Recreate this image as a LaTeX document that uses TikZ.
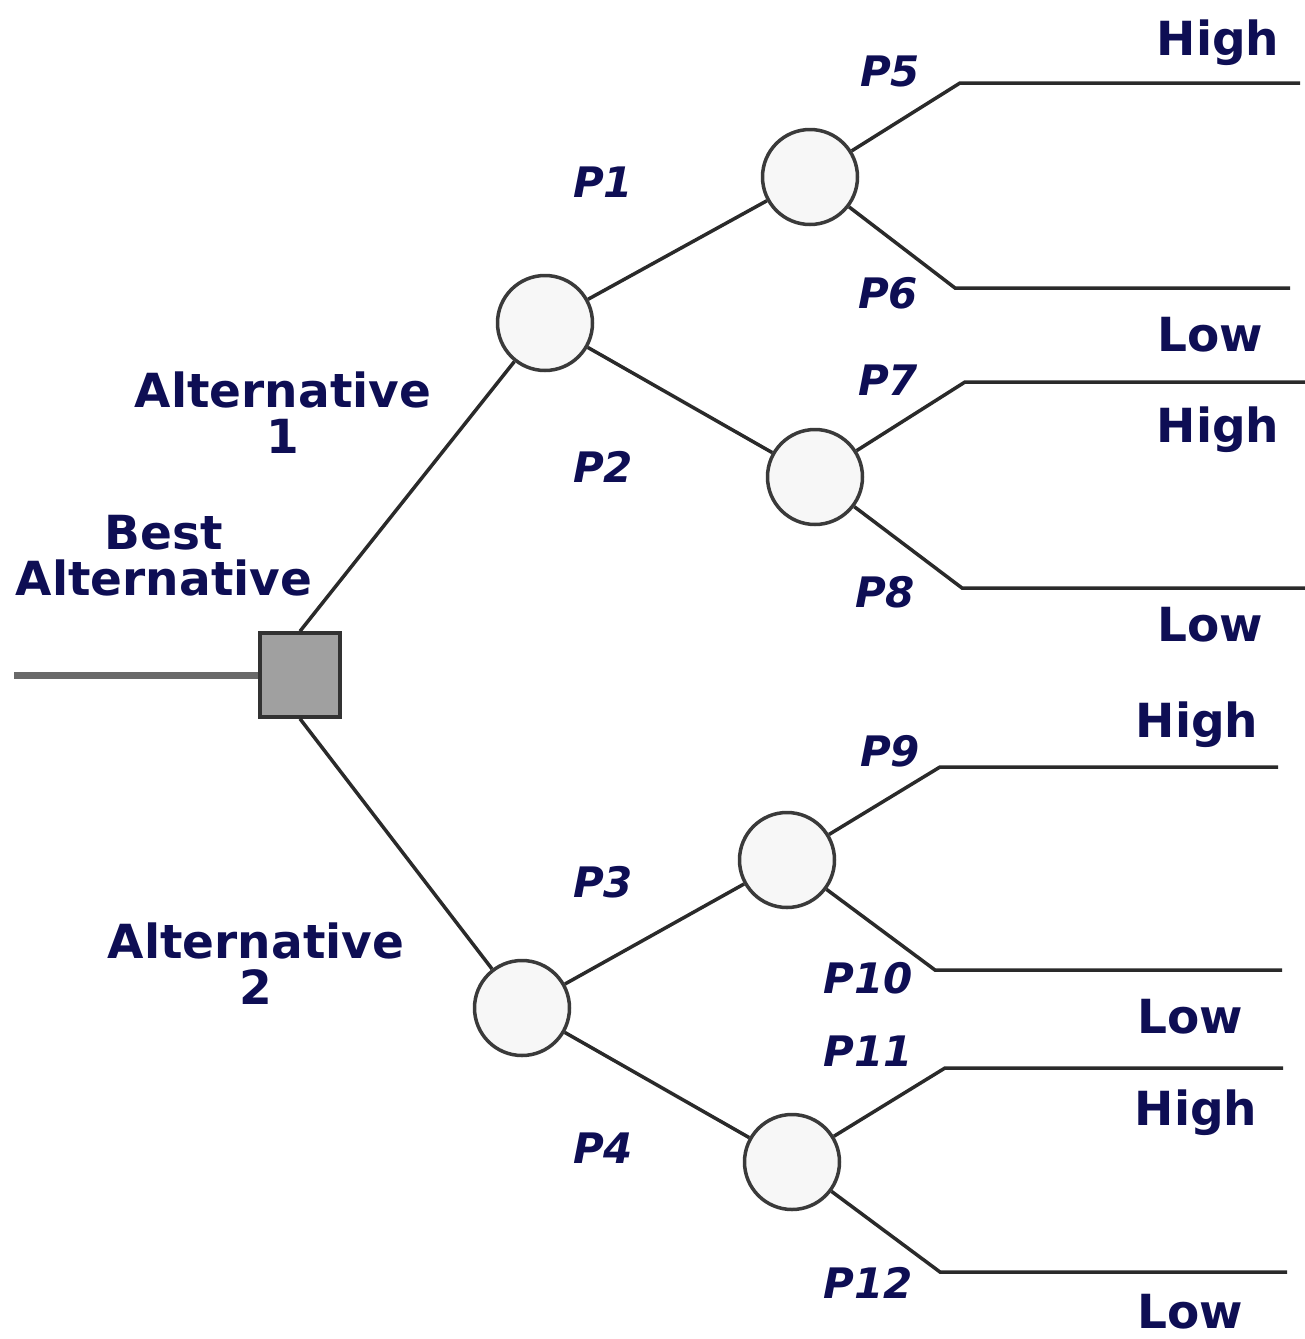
\documentclass[tikz,border=0pt]{standalone}
\usepackage{fontspec}
\setmainfont{DejaVu Sans}
\definecolor{ink}{RGB}{14,14,84}
\definecolor{linec}{RGB}{42,42,42}
\definecolor{stubc}{RGB}{105,105,105}
\definecolor{circd}{RGB}{58,58,58}
\definecolor{circf}{RGB}{247,247,247}
\definecolor{sqd}{RGB}{50,50,50}
\definecolor{sqf}{RGB}{160,160,160}
\begin{document}
\begin{tikzpicture}[x=1pt,y=-1pt,
  branch/.style={draw=linec, line width=3.5pt},
  stub/.style={draw=stubc, line width=7pt},
  chance/.style={circle, draw=circd, fill=circf, line width=3.5pt, minimum size=95pt, inner sep=0pt},
  decision/.style={rectangle, draw=sqd, fill=sqf, line width=3.5pt, minimum width=80pt, minimum height=84pt, inner sep=0pt},
  outcome/.style={text=ink, anchor=base, inner sep=0pt, font=\fontsize{47}{47}\selectfont\bfseries},
  prob/.style={text=ink, anchor=base, inner sep=0pt, font=\fontsize{42}{42}\selectfont\bfseries\itshape},
  alt/.style={text=ink, inner sep=0pt, align=center, font=\fontsize{47}{46}\selectfont\bfseries},
]
\useasboundingbox (0,0) rectangle (1305,1339);

% decision square and chance nodes
\node[decision] (sq) at (300,675) {};
\node[chance] (a1) at (545,323) {};
\node[chance] (a2) at (522,1008) {};
\node[chance] (b1) at (810,177) {};
\node[chance] (b2) at (815,477) {};
\node[chance] (b3) at (787,860) {};
\node[chance] (b4) at (792,1162) {};

% start of the tree
\coordinate (s0) at (14,675);
\draw[stub] (s0) -- (sq.west);

% alternatives
\draw[branch] (sq.north) -- (a1);
\draw[branch] (sq.south) -- (a2);

% first-level chance branches
\draw[branch] (a1) -- (b1);
\draw[branch] (a1) -- (b2);
\draw[branch] (a2) -- (b3);
\draw[branch] (a2) -- (b4);

% outcome branches: knee and end points
\coordinate (k5) at (960,83);   \coordinate (e5) at (1300,83);
\coordinate (k6) at (955,288);  \coordinate (e6) at (1290,288);
\coordinate (k7) at (965,382);  \coordinate (e7) at (1305,382);
\coordinate (k8) at (962,588);  \coordinate (e8) at (1305,588);
\coordinate (k9) at (940,767);  \coordinate (e9) at (1278,767);
\coordinate (k10) at (935,970); \coordinate (e10) at (1282,970);
\coordinate (k11) at (945,1068);\coordinate (e11) at (1283,1068);
\coordinate (k12) at (940,1272);\coordinate (e12) at (1287,1272);

\draw[branch] (b1) -- (k5) -- (e5);
\draw[branch] (b1) -- (k6) -- (e6);
\draw[branch] (b2) -- (k7) -- (e7);
\draw[branch] (b2) -- (k8) -- (e8);
\draw[branch] (b3) -- (k9) -- (e9);
\draw[branch] (b3) -- (k10) -- (e10);
\draw[branch] (b4) -- (k11) -- (e11);
\draw[branch] (b4) -- (k12) -- (e12);

% labels of the decision and alternatives
\node[alt] (lbest) at (164,556) {Best\\Alternative};
\node[alt] (lalt1) at (283,413) {Alternative\\1};
\node[alt] (lalt2) at (256,964) {Alternative\\2};

% probabilities
\node[prob] (p1) at (603,197) {P1};
\node[prob] (p2) at (603,482) {P2};
\node[prob] (p3) at (603,897) {P3};
\node[prob] (p4) at (603,1163) {P4};
\node[prob] (p5) at (890,86) {P5};
\node[prob] (p6) at (888,308) {P6};
\node[prob] (p7) at (888,395) {P7};
\node[prob] (p8) at (885,607) {P8};
\node[prob] (p9) at (890,766) {P9};
\node[prob] (p10) at (868,993) {P10};
\node[prob] (p11) at (868,1066) {P11};
\node[prob] (p12) at (868,1298) {P12};

% outcomes
\node[outcome] (o5) at (1218,55) {High};
\node[outcome] (o6) at (1210,351) {Low};
\node[outcome] (o7) at (1218,442) {High};
\node[outcome] (o8) at (1210,641) {Low};
\node[outcome] (o9) at (1197,737) {High};
\node[outcome] (o10) at (1190,1033) {Low};
\node[outcome] (o11) at (1196,1125) {High};
\node[outcome] (o12) at (1190,1328) {Low};
\end{tikzpicture}
\end{document}
